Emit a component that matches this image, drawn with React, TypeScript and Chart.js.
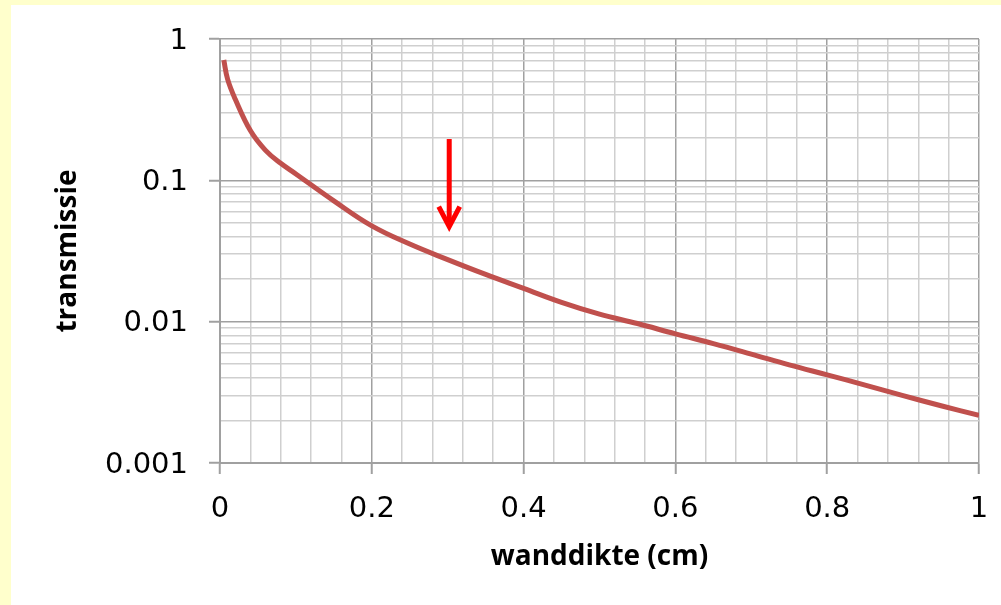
import React, { useEffect, useRef } from 'react';
import { Chart, registerables } from 'chart.js';

Chart.register(...registerables);

// wall thickness (cm)
const wallThickness = [
  0.005, 0.01, 0.02, 0.04, 0.06, 0.08, 0.1, 0.15, 0.2, 0.25, 0.3, 0.35,
  0.4, 0.45, 0.5, 0.55, 0.6, 0.65, 0.7, 0.75, 0.8, 0.85, 0.9, 0.95, 1.0,
];
// transmission
const transmission = [
  0.71, 0.52, 0.376, 0.225, 0.163, 0.132, 0.111, 0.0716, 0.0476, 0.0354,
  0.0275, 0.0216, 0.0172, 0.0137, 0.0113, 0.0097, 0.0082, 0.007, 0.0059,
  0.00495, 0.0042, 0.00356, 0.003, 0.00254, 0.00217,
];

const xTickValues = [0, 0.2, 0.4, 0.6, 0.8, 1];
const xTickLabels = ['0', '0.2', '0.4', '0.6', '0.8', '1'];
const yTickValues = [0.001, 0.01, 0.1, 1];
const yTickLabels = ['0.001', '0.01', '0.1', '1'];
const xMinorDivisions = 5; // minor grid lines per major step
const yMinorMultipliers = [1, 2, 3, 4, 5, 6, 7, 8, 9];

// red arrow annotation (data coordinates)
const arrowX = [0.302];
const arrowFrom = [0.196];
const arrowTo = [0.047];

const xTitle = 'wanddikte (cm)';
const yTitle = 'transmissie';

const TICK_FONT = '"DejaVu Sans", "Open Sans", sans-serif';
const TITLE_FONT = '"Open Sans", "DejaVu Sans", sans-serif';
const MAJOR = '#A0A0A0';
const MINOR = '#CFCFCF';

const near = (a: number, b: number) => Math.abs(a - b) <= Math.abs(b) * 1e-6 + 1e-9;
const xLabelFor = (v: number) => {
  const i = xTickValues.findIndex((t) => near(v, t));
  return i >= 0 ? xTickLabels[i] : '';
};
const yLabelFor = (v: number) => {
  const i = yTickValues.findIndex((t) => near(v, t));
  return i >= 0 ? yTickLabels[i] : '';
};
const isXMajor = (v: number) => xTickValues.some((t) => near(v, t));
const isYMajor = (v: number) => yTickValues.some((t) => near(v, t));

const zeroPadding = (scale: any) => {
  scale.paddingTop = 0;
  scale.paddingBottom = 0;
  scale.paddingLeft = 0;
  scale.paddingRight = 0;
};

const arrowPlugin = {
  id: 'redArrow',
  afterDatasetsDraw(chart: any) {
    const { ctx, scales } = chart;
    const x = scales.x;
    const y = scales.y;
    ctx.save();
    ctx.strokeStyle = '#FF0000';
    ctx.lineWidth = 5;
    for (let i = 0; i < arrowX.length; i++) {
      const px = x.getPixelForValue(arrowX[i]);
      const top = y.getPixelForValue(arrowFrom[i]);
      const tip = y.getPixelForValue(arrowTo[i]);
      ctx.lineCap = 'butt';
      ctx.beginPath();
      ctx.moveTo(px, top);
      ctx.lineTo(px, tip - 2);
      ctx.stroke();
      ctx.lineJoin = 'miter';
      ctx.beginPath();
      ctx.moveTo(px - 10.5, tip - 20);
      ctx.lineTo(px, tip);
      ctx.lineTo(px + 10.5, tip - 20);
      ctx.stroke();
    }
    ctx.restore();
  },
};

export default function App() {
  const ref = useRef<HTMLCanvasElement | null>(null);

  useEffect(() => {
    if (!ref.current) return;
    const points = wallThickness.map((x, i) => ({ x, y: transmission[i] }));

    const xGrid: number[] = [];
    for (let m = 0; m < xTickValues.length - 1; m++) {
      const a = xTickValues[m];
      const b = xTickValues[m + 1];
      for (let k = 0; k < xMinorDivisions; k++) xGrid.push(a + ((b - a) * k) / xMinorDivisions);
    }
    xGrid.push(xTickValues[xTickValues.length - 1]);

    const yGrid: number[] = [];
    for (let d = 0; d < yTickValues.length - 1; d++) {
      yMinorMultipliers.forEach((m) => yGrid.push(yTickValues[d] * m));
    }
    yGrid.push(yTickValues[yTickValues.length - 1]);

    const chart = new Chart(ref.current, {
      type: 'scatter',
      data: {
        datasets: [
          {
            data: points,
            showLine: true,
            borderColor: '#C0504D',
            backgroundColor: '#C0504D',
            borderWidth: 5,
            pointRadius: 0,
            pointHoverRadius: 0,
            tension: 0.4,
            borderCapStyle: 'butt',
            borderJoinStyle: 'round',
          },
        ],
      },
      options: {
        responsive: false,
        animation: false,
        events: [],
        layout: { padding: { left: 40.2, top: 34, right: 22, bottom: 0 } },
        plugins: {
          legend: { display: false },
          tooltip: { enabled: false },
          title: { display: false },
        },
        scales: {
          x: {
            type: 'linear',
            min: 0,
            max: 1,
            afterBuildTicks: (scale: any) => {
              scale.ticks = xGrid.map((v) => ({ value: v }));
            },
            afterFit: (scale: any) => {
              scale.height = 142;
              zeroPadding(scale);
            },
            ticks: {
              autoSkip: false,
              maxRotation: 0,
              minRotation: 0,
              padding: 18,
              color: '#000',
              font: { family: TICK_FONT, size: 29 },
              callback: (v: any) => xLabelFor(Number(v)),
            },
            grid: {
              color: (c: any) => (isXMajor(c.tick.value) ? MAJOR : MINOR),
              lineWidth: 1.5,
              tickColor: (c: any) => (isXMajor(c.tick.value) ? MAJOR : 'rgba(0,0,0,0)'),
              tickLength: 11,
              tickWidth: 2,
            },
            border: { color: MAJOR, width: 2 },
            title: {
              display: true,
              text: xTitle,
              color: '#000',
              font: { family: TITLE_FONT, size: 28, weight: 'bold' },
              padding: { top: 0, bottom: 31.2 },
            },
          },
          y: {
            type: 'logarithmic',
            min: 0.001,
            max: 1,
            afterBuildTicks: (scale: any) => {
              scale.ticks = yGrid.map((v) => ({ value: v }));
            },
            afterFit: (scale: any) => {
              scale.width = 168.8;
              zeroPadding(scale);
            },
            ticks: {
              autoSkip: false,
              padding: 21,
              labelOffset: 2,
              color: '#000',
              font: { family: TICK_FONT, size: 29 },
              callback: (v: any) => yLabelFor(Number(v)),
            },
            grid: {
              color: (c: any) => (isYMajor(c.tick.value) ? MAJOR : MINOR),
              lineWidth: 1.5,
              tickColor: (c: any) => (isYMajor(c.tick.value) ? MAJOR : 'rgba(0,0,0,0)'),
              tickLength: 11,
              tickWidth: 2,
            },
            border: { color: MAJOR, width: 2 },
            title: {
              display: true,
              text: yTitle,
              color: '#000',
              font: { family: TITLE_FONT, size: 28, weight: 'bold' },
              padding: { top: 0, bottom: 0 },
            },
          },
        },
      },
      plugins: [arrowPlugin],
    } as any);

    return () => chart.destroy();
  }, []);

  return (
    <div
      style={{
        position: 'fixed',
        left: 0,
        top: 0,
        width: 1001,
        height: 605,
        background: '#FFFFCC',
        overflow: 'hidden',
      }}
    >
      <div
        style={{
          position: 'absolute',
          left: 11,
          top: 5,
          width: 990,
          height: 600,
          background: '#FFFFFF',
        }}
      >
        <canvas ref={ref} width={990} height={600} style={{ display: 'block' }} />
      </div>
    </div>
  );
}
